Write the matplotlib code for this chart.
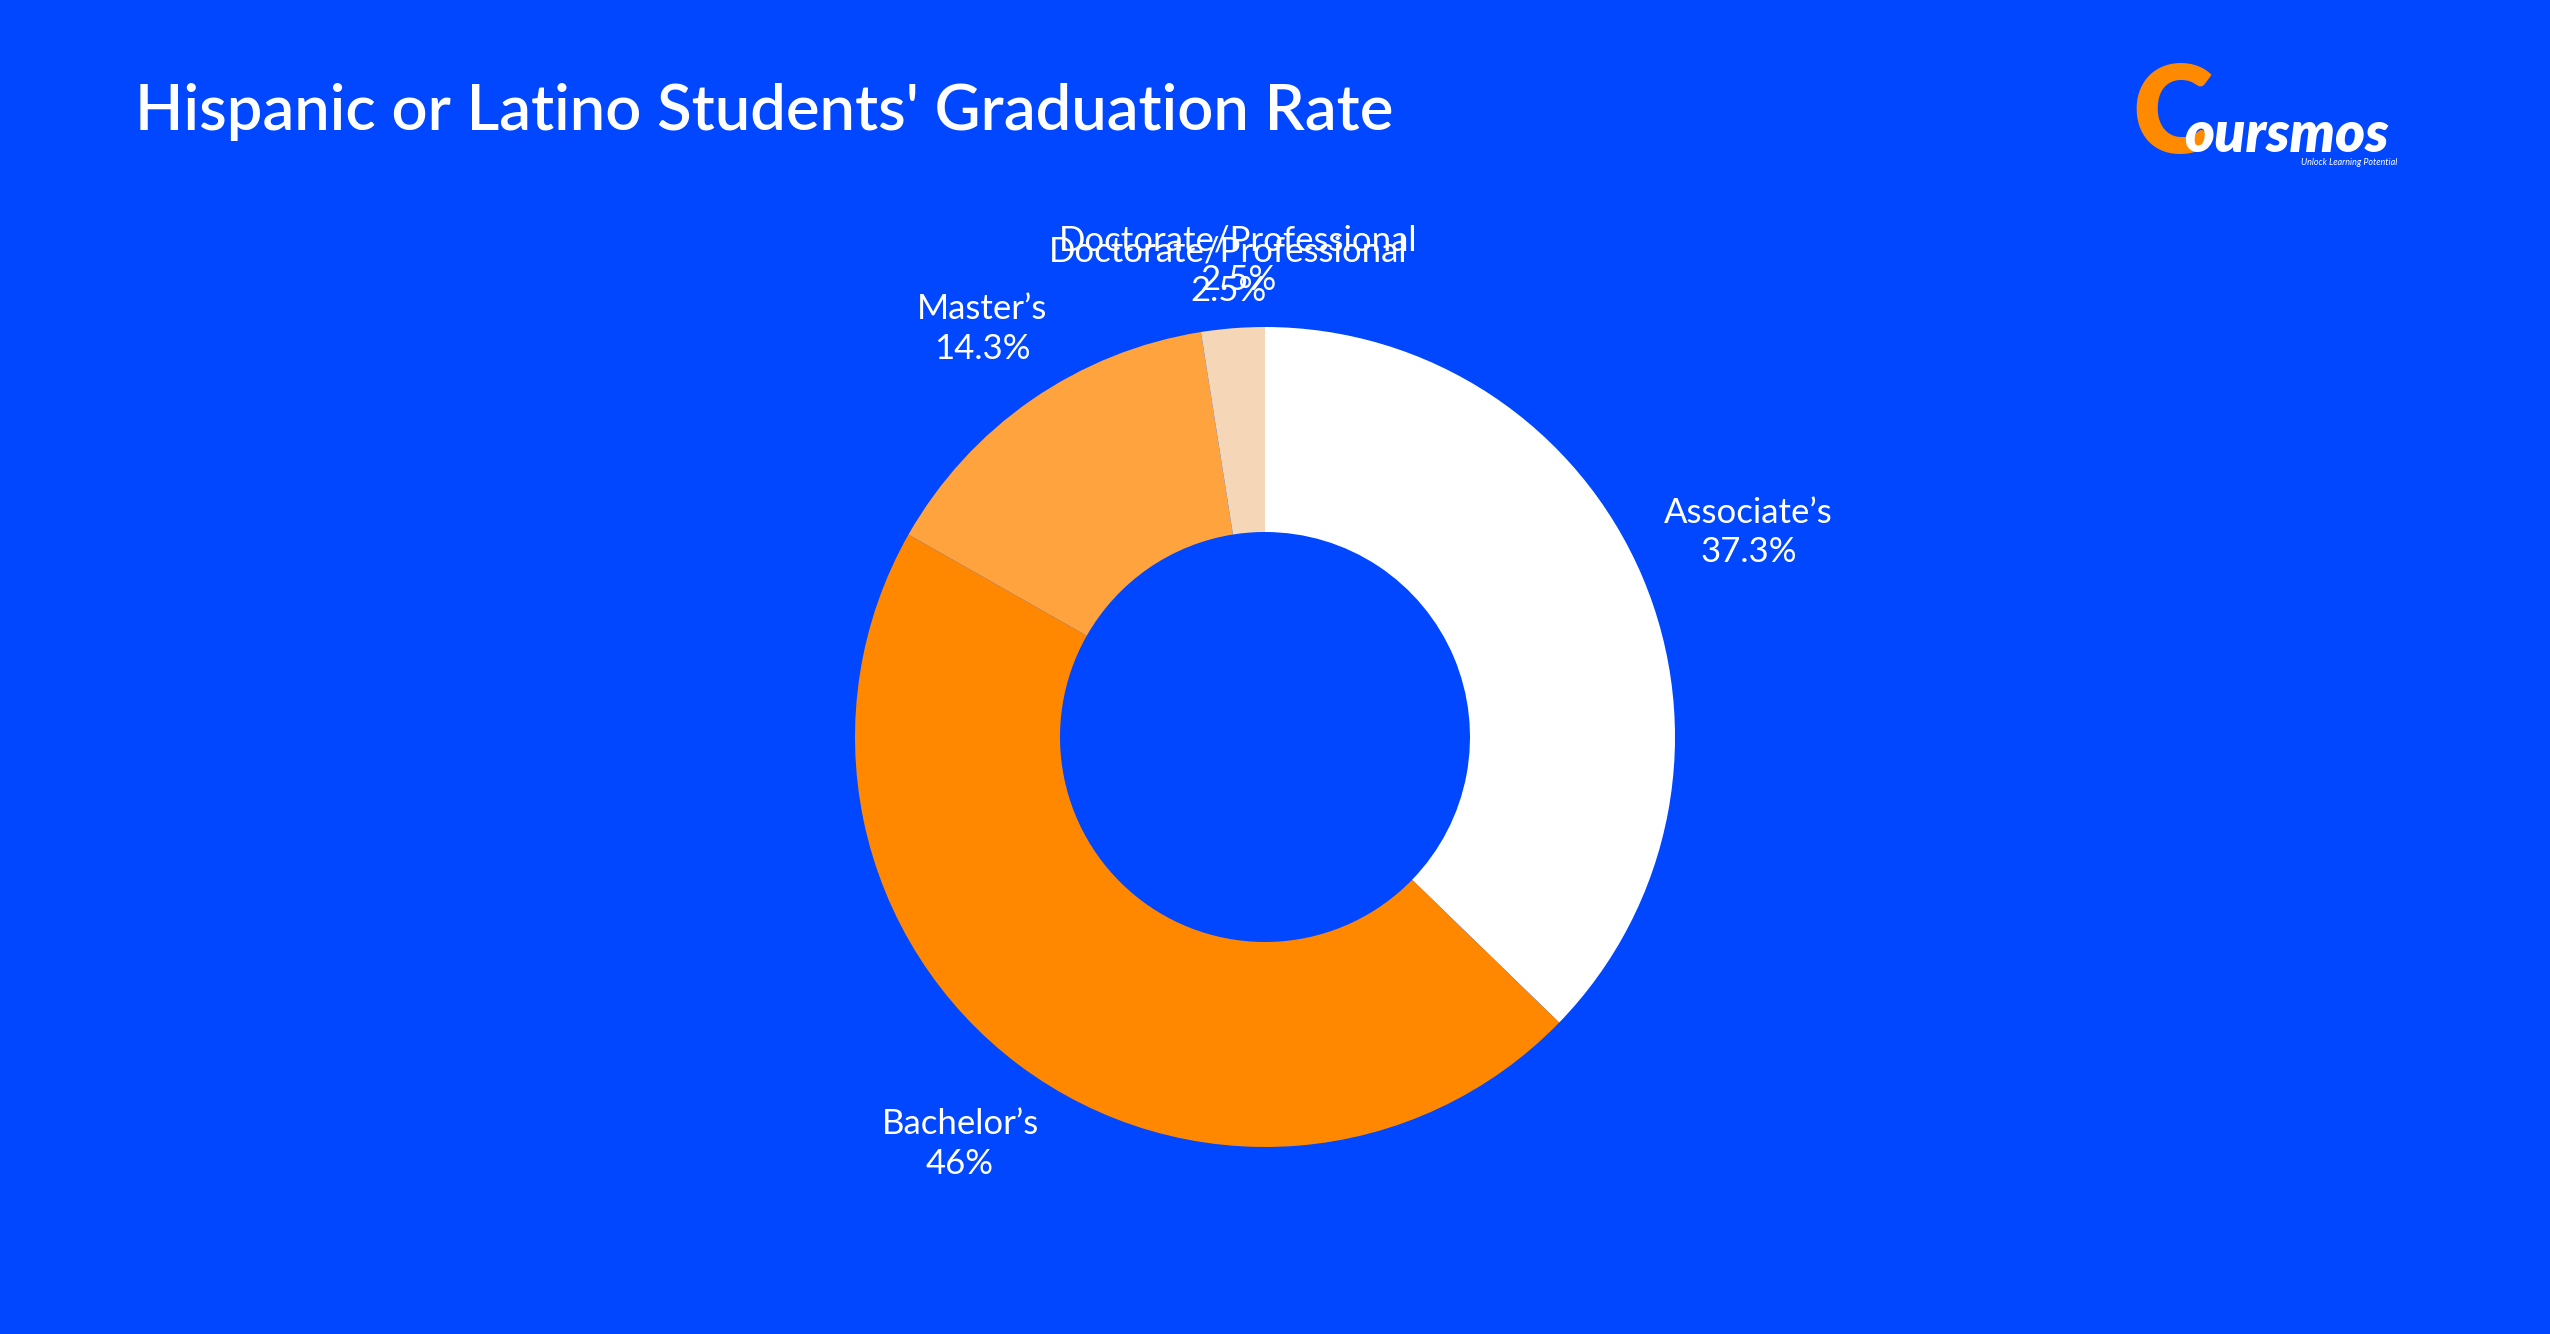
import numpy as np
import matplotlib.pyplot as plt

# chart data
categories = ["Associate’s", "Bachelor’s", "Master’s", "Doctorate/Professional"]
values = [37.3, 46, 14.3, 2.5]
colors = ["#FFFFFF", "#FF8800", "#FFA33F", "#F5D6B6"]
title = "Hispanic or Latino Students' Graduation Rate"

W, H = 2550, 1334
bg = "#0047FF"
plt.rcParams['font.family'] = ['Lato', 'DejaVu Sans']

fig = plt.figure(figsize=(W / 100, H / 100), dpi=100, facecolor=bg)
ax = fig.add_axes([0, 0, 1, 1])

cx, cy, R = 1265, H - 737, 410
wedges, _ = ax.pie(values, colors=colors, startangle=90, counterclock=False,
                   center=(cx, cy), radius=R, frame=True,
                   wedgeprops=dict(width=R * 0.5, linewidth=0))
ax.set_xlim(0, W)
ax.set_ylim(0, H)
ax.set_aspect('equal')
ax.axis('off')

# label distance (in radii) for each slice
label_dist = [1.28, 1.24, 1.21, 1.14]
for w, cat, v, d in zip(wedges, categories, values, label_dist):
    mid = np.deg2rad((w.theta1 + w.theta2) / 2)
    x = cx + d * R * np.cos(mid)
    y = cy + d * R * np.sin(mid)
    ax.text(x, y, f"{cat}\n{v:g}%", color="white", fontsize=25,
            ha="center", va="center", linespacing=1.3)

# the reference shows the small slice label drawn twice, slightly shifted
w = wedges[-1]
mid = np.deg2rad((w.theta1 + w.theta2) / 2) - np.deg2rad(1.3)
ax.text(cx + 1.165 * R * np.cos(mid), cy + 1.165 * R * np.sin(mid),
        f"{categories[-1]}\n{values[-1]:g}%", color="white", fontsize=25,
        ha="center", va="center", linespacing=1.3)

# title
fig.text(135 / W, 1 - 130 / H, title, color="white", fontsize=45.5,
         fontweight="semibold", ha="left", va="baseline")

# logo
fig.text(2132 / W, 1 - 153 / H, "C", color="#FF8A00", fontsize=88,
         fontweight="heavy", ha="left", va="baseline")
fig.text(2184 / W, 1 - 152 / H, "oursmos", color="white", fontsize=41,
         fontweight="heavy", fontstyle="italic", ha="left", va="baseline")
fig.text(2397 / W, 1 - 165 / H, "Unlock Learning Potential", color="white",
         fontsize=6.5, fontstyle="italic", ha="right", va="baseline")

fig.savefig("out.png", dpi=100, facecolor=bg)
